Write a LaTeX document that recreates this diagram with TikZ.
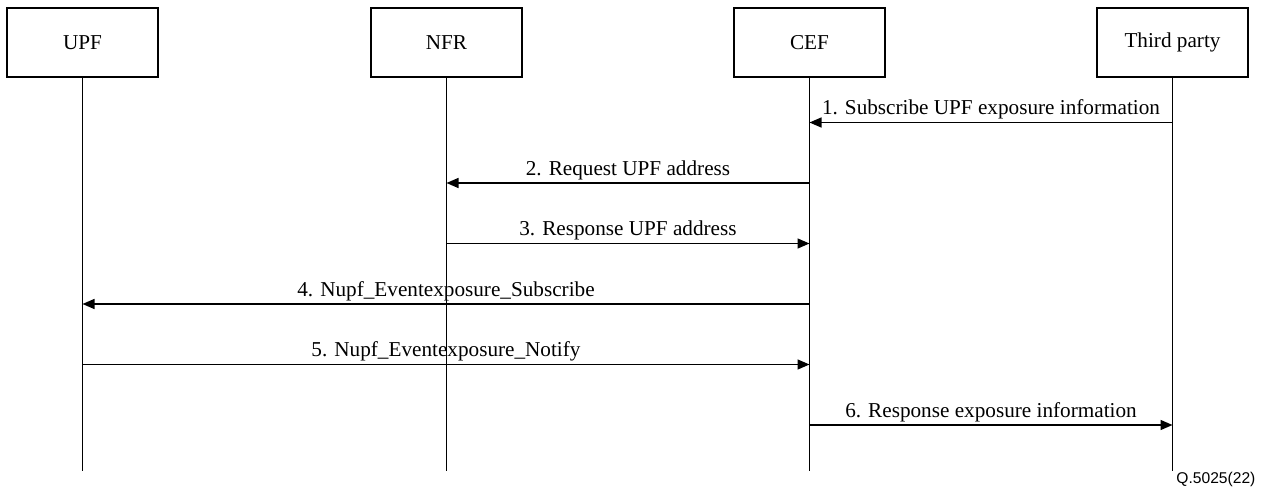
\documentclass[tikz,border=0pt]{standalone}
\usepackage{fontspec}
\setmainfont{Liberation Serif}
\newfontfamily\qfont{Liberation Sans}
\usepackage{tikz}
\usetikzlibrary{arrows.meta,positioning}

\begin{document}
\begin{tikzpicture}[x=0.5pt, y=-0.5pt, >={Triangle[length=6pt,width=5pt]}, semithick,
  font=\fontsize{10.6}{13}\selectfont,
  entity/.style={draw, line width=0.8pt, minimum width=75.5pt, minimum height=34.5pt, inner sep=2pt},
  lifeline/.style={line width=0.7pt},
  msg/.style={->, line width=0.7pt},
  msglabel/.style={anchor=base, yshift=3.9pt, inner sep=0pt}]

\useasboundingbox (0,0) rectangle (1264,492);

\node [entity] (upf) at (82.5,42.5) {UPF};
\node [entity] (nfr) at (446.5,42.5) {NFR};
\node [entity] (cef) at (809.5,42.5) {CEF};
\node [entity] (tp) at (1172.5,42.5) {Third party};

% lifelines
\foreach \n in {upf,nfr,cef,tp} {
  \coordinate (\n-end) at ([yshift=-196.5pt]\n.south);
  \draw [lifeline] (\n.south) -- (\n-end);
}

% message levels
\coordinate (m1) at (0,122.5);
\coordinate (m2) at (0,183);
\coordinate (m3) at (0,243.5);
\coordinate (m4) at (0,304);
\coordinate (m5) at (0,364.5);
\coordinate (m6) at (0,425);

\draw [msg] (tp |- m1) -- node [msglabel] {1. Subscribe UPF exposure information} (cef |- m1);
\draw [msg] (cef |- m2) -- node [msglabel] {2. Request UPF address} (nfr |- m2);
\draw [msg] (nfr |- m3) -- node [msglabel] {3. Response UPF address} (cef |- m3);
\draw [msg] (cef |- m4) -- node [msglabel] {4. Nupf\_Eventexposure\_Subscribe} (upf |- m4);
\draw [msg] (upf |- m5) -- node [msglabel] {5. Nupf\_Eventexposure\_Notify} (cef |- m5);
\draw [msg] (cef |- m6) -- node [msglabel] {6. Response exposure information} (tp |- m6);

\node [anchor=east, inner sep=0pt, font=\qfont\fontsize{7.8}{9}\selectfont] (fig) at (1256,479) {Q.5025(22)};
\end{tikzpicture}
\end{document}
